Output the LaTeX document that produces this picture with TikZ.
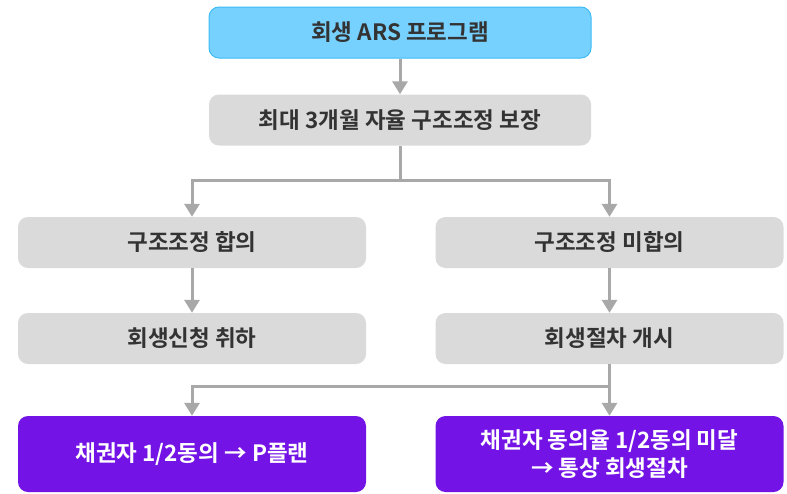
\documentclass[tikz,border=0pt]{standalone}
\usepackage{fontspec}
\setmainfont{Noto Sans CJK KR}[BoldFont={Noto Sans CJK KR Bold}]
\usetikzlibrary{arrows.meta,positioning}
\definecolor{cyanfill}{HTML}{77D1FF}
\definecolor{cyanline}{HTML}{3DBBF5}
\definecolor{grayfill}{HTML}{DADADA}
\definecolor{purp}{HTML}{7313E6}
\definecolor{conn}{HTML}{A8A8A8}
\definecolor{txt}{HTML}{333333}
\tikzset{
  box/.style={rectangle, rounded corners=10pt, minimum height=51pt, inner sep=0pt, align=center, font=\fontsize{22.5}{28}\selectfont\bfseries, text=txt},
  topbox/.style={box, fill=cyanfill, draw=cyanline, line width=1pt, minimum width=382pt},
  graybox/.style={box, fill=grayfill, minimum width=382pt},
  sidebox/.style={box, fill=grayfill, minimum width=348pt},
  purpbox/.style={box, fill=purp, text=white, minimum width=348pt, minimum height=76pt},
  link/.style={draw=conn, line width=3pt, -{Triangle[width=15pt,length=13pt]}},
  plain/.style={draw=conn, line width=3pt}
}
\begin{document}
\begin{tikzpicture}[x=1pt,y=-1pt]
\useasboundingbox (0,0) rectangle (787,493);
\node[topbox] (a) at (400,32.5) {회생 ARS 프로그램};
\node[graybox] (b) at (400,120) {최대 3개월 자율 구조조정 보장};
\node[sidebox] (c1) at (192,242.5) {구조조정 합의};
\node[sidebox] (c2) at (609.5,242.5) {구조조정 미합의};
\node[sidebox] (d1) at (192,338.5) {회생신청 취하};
\node[sidebox] (d2) at (609.5,338.5) {회생절차 개시};
\node[purpbox] (e1) at (192,454) {채권자 1/2동의 → P플랜};
\node[purpbox] (e2) at (609.5,454) {채권자 동의율 1/2동의 미달\\→ 통상 회생절차};
\coordinate (j1) at (400,180.5);
\coordinate (j2) at (609.5,386);
\draw[link] (a) -- (b);
\draw[plain, line cap=butt] (b.south) -- (j1);
\draw[link] (j1) -| (c1.north);
\draw[link] (j1) -| (c2.north);
\draw[link] (c1) -- (d1);
\draw[link] (c2) -- (d2);
\draw[plain] (d2.south) -- (j2);
\draw[link] (j2) -| (e1.north);
\draw[link] (j2) -- (e2.north);
\end{tikzpicture}
\end{document}
